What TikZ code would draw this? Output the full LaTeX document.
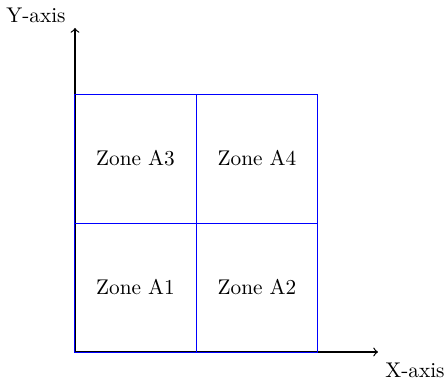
\documentclass[tikz,border=0pt]{standalone}
\begin{document}
\begin{tikzpicture}[x=0.4702pt,y=-0.4702pt,
  zone/.style={rectangle, inner sep=0pt, outer sep=0pt,
    minimum width=57pt, minimum height=60.65pt},
  grid line/.style={draw=blue, line width=0.4pt},
  axis/.style={->, line width=0.6pt, black},
  lbl/.style={inner sep=0pt}]
\useasboundingbox (0,0) rectangle (445,384);
\coordinate (o) at (75,352);
\coordinate (ytip) at (75,28);
\coordinate (xtip) at (378,352);
\draw[axis] (o) -- (ytip);
\draw[axis] (o) -- (xtip);
\node[lbl] (ylab) at (36,15) {Y-axis};
\node[lbl] (xlab) at (415,370) {X-axis};
\node[zone] (a1) at (135.5,287.5) {Zone A1};
\node[zone] (a2) at (257,287.5) {Zone A2};
\node[zone] (a3) at (135.5,158.5) {Zone A3};
\node[zone] (a4) at (257,158.5) {Zone A4};
\draw[grid line] (a3.north west) rectangle (a2.south east);
\draw[grid line] (a1.north west) -- (a2.north east);
\draw[grid line] (a3.north east) -- (a1.south east);
\end{tikzpicture}
\end{document}
